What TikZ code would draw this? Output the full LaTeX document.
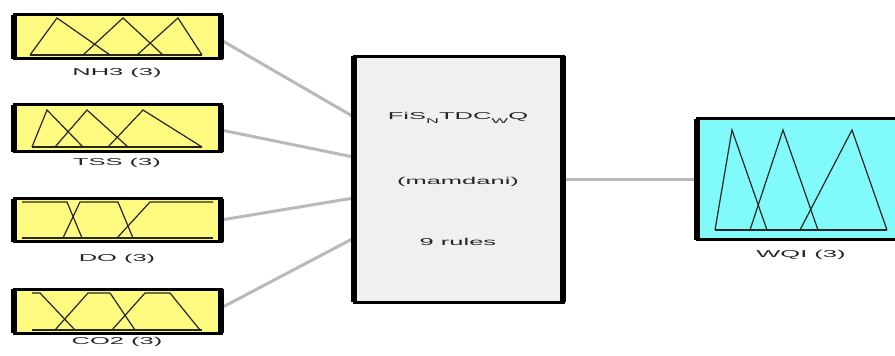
\documentclass[tikz,border=0pt]{standalone}
\usepackage{fontspec}
\setmainfont{Liberation Sans}
\usetikzlibrary{calc,backgrounds}
\definecolor{mfyellow}{RGB}{255,250,128}
\definecolor{mfcyan}{RGB}{128,250,250}
\definecolor{fisgray}{RGB}{240,240,240}
\definecolor{linkgray}{RGB}{185,185,185}
\newcommand{\wtext}[1]{\scalebox{2.55}[1]{\fontsize{10}{12}\selectfont #1}}
\newcommand{\subl}[1]{\raisebox{-3.5pt}{\fontsize{7}{7}\selectfont #1}}
\tikzset{
  inbox/.style={rectangle, draw=black, line width=3pt, fill=mfyellow, inner sep=0pt, outer sep=0pt, minimum width=207pt},
  outbox/.style={rectangle, draw=black, line width=3pt, fill=mfcyan, inner sep=0pt, outer sep=0pt},
  fisbox/.style={rectangle, draw=black, line width=3pt, fill=fisgray, inner sep=0pt, outer sep=0pt},
  side/.style={line width=6pt, black},
  mf/.style={line width=1.2pt, black!85, line join=miter},
  link/.style={line width=3pt, linkgray},
  lbl/.style={inner sep=0pt, text=black!85}
}
\begin{document}
\begin{tikzpicture}[x=1pt,y=-1pt]
\useasboundingbox (0,0) rectangle (895,356);
\clip (0,0) rectangle (895,356);
% boxes
\node[inbox, minimum height=44pt] (nh3) at (117.5,36.5) {};
\node[inbox, minimum height=47pt] (tss) at (117.5,128) {};
\node[inbox, minimum height=43pt] (do) at (117.5,220) {};
\node[inbox, minimum height=44pt] (co2) at (117.5,311) {};
\node[fisbox, minimum width=209pt, minimum height=246pt] (fis) at (458.5,179) {};
\node[outbox, minimum width=218pt, minimum height=121pt] (wqi) at (806,179) {};
% thick side borders
\foreach \n in {nh3,tss,do,co2,fis,wqi}{
  \draw[side] (\n.north west) -- (\n.south west);
  \draw[side] (\n.north east) -- (\n.south east);
}
% connectors
\begin{pgfonlayer}{background}
\draw[link] ($(nh3.east)+(0,3.5)$) -- ($(fis.north west)!0.248!(fis.south west)$);
\draw[link] ($(tss.east)+(0,2)$) -- ($(fis.north west)!0.411!(fis.south west)$);
\draw[link] (do.east) -- ($(fis.north west)!0.577!(fis.south west)$);
\draw[link] ($(co2.east)+(0,-3)$) -- ($(fis.north west)!0.740!(fis.south west)$);
\draw[link] (fis.east) -- (wqi.west);
\end{pgfonlayer}
% membership functions NH3
\draw[mf] (30,55) -- (57,18) -- (110,55);
\draw[mf] (83,55) -- (123,18) -- (163,55);
\draw[mf] (137,55) -- (178,18) -- (202,55);
\draw[mf] (30,55) -- (202,55);
% TSS
\draw[mf] (32,147) -- (47,110) -- (83,147);
\draw[mf] (55,147) -- (87,110) -- (128,147);
\draw[mf] (108,147) -- (143,110) -- (202,147);
\draw[mf] (32,147) -- (202,147);
% DO
\draw[mf] (22,202) -- (67,202) -- (82,238);
\draw[mf] (63,238) -- (80,202) -- (118,202) -- (133,238);
\draw[mf] (117,238) -- (150,202) -- (213,202);
\draw[mf] (22,238) -- (213,238);
% CO2
\draw[mf] (32,293) -- (40,293) -- (75,330);
\draw[mf] (55,330) -- (88,293) -- (110,293) -- (135,330);
\draw[mf] (112,330) -- (145,293) -- (170,293) -- (200,330);
\draw[mf] (32,330) -- (202,330);
% WQI
\draw[mf] (715,230) -- (732,130) -- (767,230);
\draw[mf] (750,230) -- (783,130) -- (818,230);
\draw[mf] (800,230) -- (852,130) -- (887,230);
\draw[mf] (715,230) -- (887,230);
% labels
\node[lbl] (nh3l) at (117,73) {\wtext{NH3 (3)}};
\node[lbl] (tssl) at (117,163) {\wtext{TSS (3)}};
\node[lbl] (dol) at (117,259) {\wtext{DO (3)}};
\node[lbl] (co2l) at (117,342) {\wtext{CO2 (3)}};
\node[lbl] (wqil) at (801,255) {\wtext{WQI (3)}};
\node[lbl] (fisname) at (458,118) {\wtext{FiS\subl{N}TDC\subl{W}Q}};
\node[lbl] (fistype) at (458,182) {\wtext{(mamdani)}};
\node[lbl] (fisrules) at (458,242) {\wtext{9 rules}};
\end{tikzpicture}
\end{document}
